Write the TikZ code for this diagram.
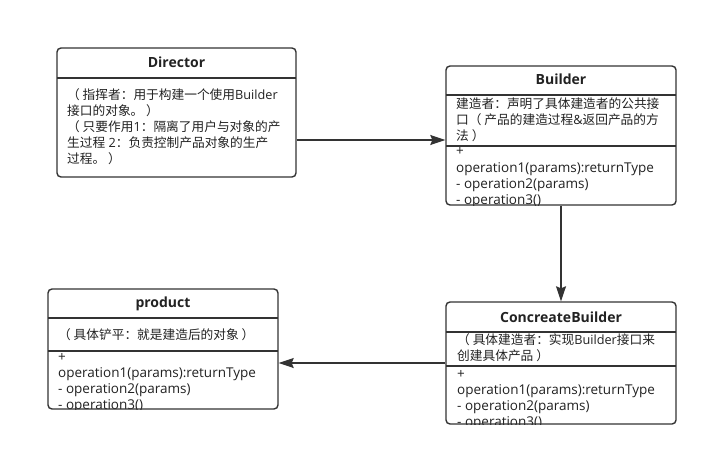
\documentclass[tikz,border=0pt]{standalone}
\usepackage{fontspec}
\setmainfont{Open Sans}
\newfontfamily\cjk{Noto Sans CJK SC}
\usetikzlibrary{arrows.meta}
\definecolor{ln}{HTML}{333333}
\definecolor{tx}{HTML}{222222}
\begin{document}
\begin{tikzpicture}[x=1pt,y=-1pt,
  cls/.style={draw=ln, line width=1.4pt, rounded corners=4pt, inner sep=0pt},
  ttl/.style={font=\fontsize{14}{16}\selectfont\bfseries, text=tx, inner sep=0pt, anchor=base},
  txt/.style={font=\fontsize{12.7}{16}\selectfont, text=tx, align=left, anchor=base west, inner sep=0pt},
  ops/.style={font=\fontsize{13.5}{16}\selectfont, text=tx, align=left, anchor=base west, inner sep=0pt},
  sep/.style={draw=ln, line width=1.2pt},
  arr/.style={draw=ln, line width=1.3pt, -{Stealth[length=15pt,width=10pt,inset=2pt]}}]
\fill[white] (0,0) rectangle (708,457);
\useasboundingbox (0,0) rectangle (708,457);

% Director (multi-line nodes are placed by the baseline of their last line)
\begin{scope}
\clip (57,48) rectangle (296,177);
\node[ttl] (dirT) at (176.5,67.5) {Director};
\node[txt] (dirA) at (67,163.5) {{\cjk （ 指挥者：用于构建一个使用}Builder\\
{\cjk 接口的对象。 ）}\\
{\cjk （ 只要作用}1{\cjk ：隔离了用户与对象的产}\\
{\cjk 生过程} 2{\cjk ：负责控制产品对象的生产}\\
{\cjk 过程。 ）}};
\end{scope}
\node[cls, minimum width=239pt, minimum height=129pt] (director) at (176.5,112.5) {};
\draw[sep] (57,78) -- (296,78);

% Builder
\begin{scope}
\clip (446,66) rectangle (676,205);
\node[ttl] (bldT) at (561,85) {Builder};
\node[txt] (bldA) at (456,140.5) {{\cjk 建造者：声明了具体建造者的公共接}\\
{\cjk 口（ 产品的建造过程}\&{\cjk 返回产品的方}\\
{\cjk 法 ）}};
\node[ops] (bldO) at (456,204) {+\\operation1(params):returnType\\- operation2(params)\\- operation3()};
\end{scope}
\node[cls, minimum width=230pt, minimum height=139pt] (builder) at (561,135.5) {};
\draw[sep] (446,95) -- (676,95);
\draw[sep] (446,146) -- (676,146);

% product
\begin{scope}
\clip (48,289) rectangle (278,409);
\node[ttl] (proT) at (163,307.5) {product};
\node[txt] (proA) at (58,339.5) {{\cjk （ 具体铲平：就是建造后的对象 ）}};
\node[ops] (proO) at (58,409) {+\\operation1(params):returnType\\- operation2(params)\\- operation3()};
\end{scope}
\node[cls, minimum width=230pt, minimum height=120pt] (product) at (163,349) {};
\draw[sep] (48,318) -- (278,318);
\draw[sep] (48,351) -- (278,351);

% ConcreateBuilder
\begin{scope}
\clip (446,302) rectangle (676,424);
\node[ttl] (conT) at (561,322.5) {ConcreateBuilder};
\node[txt] (conA) at (457,360.5) {{\cjk （ 具体建造者：实现}Builder{\cjk 接口来}\\
{\cjk 创建具体产品 ）}};
\node[ops] (conO) at (457,426) {+\\operation1(params):returnType\\- operation2(params)\\- operation3()};
\end{scope}
\node[cls, minimum width=230pt, minimum height=122pt] (concrete) at (561,363) {};
\draw[sep] (446,332) -- (676,332);
\draw[sep] (446,366) -- (676,366);

% connectors
\draw[arr] ([yshift=-27.5pt]director.east) -- ([yshift=-4.5pt]builder.west);
\draw[arr] (builder.south) -- (concrete.north);
\draw[arr] (concrete.west) -- (product.east |- concrete.west);
\end{tikzpicture}
\end{document}
